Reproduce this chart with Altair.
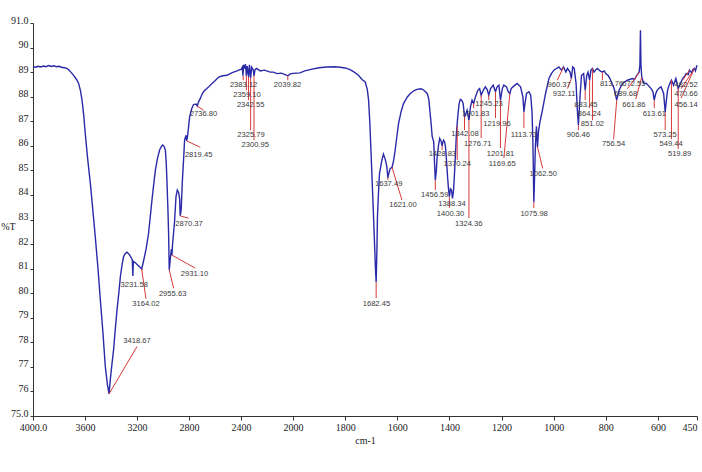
import altair as alt
import pandas as pd

# ---- spectrum (wavenumber cm-1, %T) ----
wn = [4000, 3980, 3960, 3940, 3920, 3900, 3880, 3860, 3840, 3820, 3800, 3780, 3760, 3740, 3726,
      3700, 3688, 3665, 3649, 3635, 3623, 3610, 3598, 3580, 3559, 3540, 3521, 3500, 3482, 3462,
      3444, 3428, 3415, 3405, 3395, 3380, 3366, 3354, 3340, 3328, 3315, 3303, 3290, 3277, 3260,
      3245, 3236, 3232, 3228, 3215, 3195, 3175, 3164, 3150, 3130, 3111, 3098, 3085, 3072, 3059,
      3042, 3026, 3012, 3003, 2992, 2982, 2975, 2969, 2962, 2957, 2952, 2942, 2935, 2931, 2927,
      2918, 2912, 2900, 2890, 2880, 2872, 2868, 2860, 2852, 2840, 2834, 2823, 2818, 2812, 2795,
      2780, 2765, 2745, 2737, 2725, 2713, 2700, 2688, 2675, 2662, 2645, 2623, 2600, 2572, 2540,
      2508, 2480, 2457, 2430, 2410, 2400, 2390, 2385, 2380, 2372, 2365, 2359, 2352, 2342, 2335,
      2326, 2318, 2306, 2300, 2292, 2280, 2252, 2220, 2175, 2150, 2123, 2090, 2060, 2040, 2020,
      2000, 1973, 1955, 1935, 1900, 1871, 1840, 1819, 1800, 1781, 1765, 1749, 1735, 1723, 1715,
      1710, 1705, 1701, 1696, 1691, 1686, 1684, 1681, 1678, 1676, 1672, 1668, 1659, 1653, 1646,
      1640, 1636, 1632, 1627, 1620, 1614, 1608, 1600, 1595, 1585, 1576, 1562, 1550, 1535, 1524,
      1510, 1501, 1492, 1485, 1479, 1475, 1470, 1466, 1460, 1457, 1454, 1450, 1447, 1442, 1437,
      1432, 1428, 1425, 1422, 1418, 1415, 1411, 1407, 1403, 1400, 1396, 1392, 1388, 1384, 1381,
      1377, 1373, 1368, 1363, 1358, 1352, 1347, 1342, 1337, 1332, 1325, 1319, 1313, 1307, 1300,
      1291, 1284, 1278, 1270, 1262, 1255, 1249, 1242, 1232, 1223, 1217, 1210, 1204, 1197, 1191,
      1181, 1174, 1168, 1163, 1153, 1140, 1127, 1118, 1114, 1110, 1104, 1095, 1088, 1083, 1080,
      1078, 1076, 1073, 1070, 1066, 1062, 1058, 1052, 1043, 1031, 1018, 1008, 999, 980, 970,
      962, 953, 947, 937, 932, 927, 921, 914, 909, 905, 901, 898, 893, 885, 879,
      873, 868, 862, 857, 851, 845, 838, 832, 822, 813, 806, 800, 790, 781, 768,
      758, 749, 736, 717, 698, 690, 681, 672, 669, 667, 665, 662, 654, 645, 638,
      626, 619, 614, 609, 603, 595, 588, 578, 572, 567, 563, 557, 548, 540, 531,
      522, 514, 505, 497, 492, 483, 479, 470, 466, 460, 456, 450]
trans = [89.22, 89.20, 89.24, 89.21, 89.25, 89.22, 89.27, 89.23, 89.26, 89.22, 89.24, 89.20, 89.18, 89.15, 89.10,
         88.95, 88.87, 88.70, 88.54, 88.25, 87.86, 87.25, 86.50, 85.50, 84.47, 83.40, 82.30, 81.00, 79.73, 78.40,
         77.02, 76.30, 75.90, 76.50, 77.00, 77.70, 78.60, 79.30, 80.00, 80.67, 81.15, 81.49, 81.62, 81.67, 81.58,
         81.45, 81.35, 80.70, 81.30, 81.25, 81.15, 81.05, 80.98, 81.30, 81.80, 82.44, 83.10, 83.79, 84.40, 85.00,
         85.50, 85.83, 85.98, 86.03, 85.98, 85.83, 85.30, 84.47, 83.40, 82.44, 80.95, 81.50, 81.80, 81.55, 81.95,
         82.50, 82.85, 83.93, 84.20, 84.10, 83.85, 83.15, 83.40, 84.47, 85.60, 86.23, 86.43, 86.20, 86.35, 87.18,
         87.50, 87.68, 87.70, 87.62, 87.80, 87.93, 88.10, 88.20, 88.28, 88.33, 88.42, 88.54, 88.65, 88.80, 88.85,
         88.87, 88.95, 89.00, 89.05, 89.10, 89.10, 89.20, 88.85, 89.30, 89.15, 89.32, 88.85, 89.25, 88.80, 89.30,
         88.75, 89.20, 89.10, 88.85, 89.10, 89.15, 89.05, 89.08, 89.00, 89.00, 88.94, 88.96, 88.90, 88.85, 88.93,
         88.95, 88.97, 89.05, 89.10, 89.18, 89.21, 89.22, 89.20, 89.17, 89.10, 89.00, 88.87, 88.70, 88.60, 88.30,
         87.86, 86.90, 85.83, 84.50, 83.11, 81.70, 81.08, 80.45, 81.80, 83.11, 84.10, 84.88, 85.42, 85.66, 85.45,
         85.15, 84.70, 84.90, 85.08, 85.12, 85.40, 85.83, 86.50, 86.91, 87.40, 87.72, 87.98, 88.13, 88.25, 88.30,
         88.32, 88.29, 88.20, 88.13, 87.90, 87.45, 86.90, 86.37, 86.16, 85.30, 84.60, 85.00, 85.55, 86.00, 86.30,
         86.20, 86.00, 86.15, 86.23, 86.15, 85.96, 85.40, 84.74, 84.20, 83.93, 84.25, 84.20, 83.86, 84.20, 84.74,
         85.60, 86.50, 87.18, 87.70, 87.89, 87.85, 87.72, 87.18, 87.30, 87.45, 87.04, 87.59, 87.86, 87.72, 87.99,
         88.26, 88.33, 88.06, 88.26, 88.40, 88.29, 88.06, 88.33, 88.47, 88.20, 88.40, 88.47, 87.86, 88.33, 88.47,
         88.40, 88.20, 88.13, 88.33, 88.43, 88.54, 88.40, 87.99, 87.38, 87.72, 88.13, 88.20, 88.06, 87.40, 86.30,
         85.15, 83.70, 84.80, 86.00, 86.80, 85.95, 86.60, 87.00, 87.45, 88.13, 88.74, 88.95, 89.08, 89.21, 89.08,
         89.21, 89.00, 89.15, 89.00, 88.74, 89.21, 89.15, 88.54, 87.45, 86.84, 87.60, 88.13, 88.87, 88.94, 88.26,
         88.87, 89.00, 88.67, 89.08, 89.15, 89.00, 89.10, 89.15, 89.05, 89.00, 89.05, 88.94, 88.85, 88.67, 88.33,
         87.86, 88.26, 88.54, 88.67, 88.74, 88.70, 88.87, 89.00, 89.30, 90.70, 89.30, 88.80, 88.54, 88.55, 88.47,
         88.33, 88.20, 87.86, 88.10, 88.26, 88.35, 88.40, 88.13, 87.38, 87.90, 88.26, 88.47, 88.67, 88.47, 88.74,
         88.33, 88.54, 88.74, 88.85, 88.94, 88.90, 89.08, 88.97, 89.10, 89.15, 89.05, 89.28]

# ---- peak annotations: text, curve point, leader end, text position ----
peak_text = ["3418.67", "3231.58", "3164.02", "2955.63", "2931.10", "2870.37", "2819.45", "2736.80",
             "2383.12", "2359.10", "2342.55", "2325.79", "2300.95", "2039.82",
             "1682.45", "1637.49", "1621.00", "1456.59", "1428.83", "1388.34", "1400.30", "1370.24",
             "1324.36", "1342.08", "1301.83", "1276.71", "1245.23", "1219.96", "1201.81", "1169.65",
             "1113.73", "1075.98", "1062.50", "960.37", "932.11", "883.45", "864.24", "851.02",
             "906.46", "813.76", "756.54", "689.68", "672.55", "661.86", "613.61", "573.25",
             "549.44", "519.89", "482.52", "470.66", "456.14"]
anchor_wn = [3415, 3232, 3164, 2952, 2931, 2868, 2818, 2737,
             2383, 2359, 2342, 2326, 2300, 2040,
             1681, 1636, 1620, 1454, 1428, 1388, 1400, 1370,
             1325, 1342, 1307, 1278, 1249, 1223, 1204, 1168,
             1114, 1076, 1062, 962, 932, 879, 862, 851,
             905, 813, 758, 690, 672, 662, 614, 572,
             548, 522, 479, 470, 460]
anchor_t = [75.90, 80.70, 80.98, 80.95, 81.55, 83.15, 86.20, 87.62,
            88.85, 88.85, 88.80, 88.75, 88.85, 88.85,
            80.45, 84.70, 85.12, 84.60, 86.00, 83.86, 83.93, 86.80,
            87.04, 87.18, 87.72, 88.06, 88.06, 88.20, 87.86, 88.13,
            87.38, 83.70, 85.95, 89.21, 88.74, 88.26, 88.67, 89.15,
            86.84, 89.00, 87.86, 88.70, 89.00, 88.80, 87.86, 87.38,
            88.67, 88.33, 89.08, 88.97, 89.15]
end_wn = [3200, 3232, 3131, 2918, 2752, 2803, 2713, 2688,
          2383, 2359, 2342, 2326, 2300, 2040,
          1681, 1636, 1582, 1454, 1428, 1388, 1400, 1370,
          1325, 1342, 1307, 1278, 1249, 1223, 1204, 1191,
          1114, 1076, 1042, 986, 947, 879, 862, 851,
          905, 813, 770, 717, 692, 685, 614, 572,
          548, 522, 505, 511, 511]
end_t = [77.83, 80.70, 79.77, 80.20, 81.02, 83.05, 85.94, 87.45,
         88.67, 88.26, 87.86, 86.64, 86.23, 88.67,
         79.80, 84.60, 83.79, 84.20, 85.83, 83.86, 83.47, 85.42,
         83.06, 86.64, 87.53, 86.31, 87.86, 87.13, 85.91, 85.50,
         86.72, 83.47, 85.08, 88.67, 88.33, 87.86, 87.53, 87.04,
         86.64, 88.67, 86.26, 88.33, 88.67, 87.90, 87.53, 86.64,
         86.27, 85.87, 88.67, 88.33, 87.94]
text_wn = [3200, 3221, 3131, 2926, 2757, 2800, 2726, 2688,
           2380, 2354, 2326, 2323, 2290, 2042,
           1680, 1633, 1578, 1456, 1427, 1390, 1396, 1370,
           1326, 1340, 1299, 1291, 1248, 1217, 1204, 1197,
           1114, 1075, 1040, 979, 960, 876, 863, 851,
           905, 778, 770, 724, 692, 692, 614, 572,
           549, 517, 492, 492, 492]
text_t = [78.05, 80.34, 79.56, 79.97, 80.78, 82.82, 85.62, 87.28,
          88.47, 88.06, 87.66, 86.43, 86.03, 88.47,
          79.57, 84.44, 83.58, 84.01, 85.65, 83.63, 83.22, 85.24,
          82.82, 86.48, 87.28, 86.06, 87.70, 86.88, 85.65, 85.24,
          86.46, 83.22, 84.85, 88.47, 88.09, 87.68, 87.28, 86.87,
          86.43, 88.50, 86.06, 88.09, 88.50, 87.68, 87.28, 86.43,
          86.06, 85.65, 88.47, 88.09, 87.68]

x_ticks = [4000, 3600, 3200, 2800, 2400, 2000, 1800, 1600, 1400, 1200, 1000, 800, 600, 450]
y_ticks = list(range(75, 92))

spec = pd.DataFrame({"wn": wn, "t": trans})
peaks = pd.DataFrame({"label": peak_text, "awn": anchor_wn, "at": anchor_t,
                      "ewn": end_wn, "et": end_t, "twn": text_wn, "tt": text_t})

W, H = 664, 393
xscale = alt.Scale(domain=[4000, 2000, 450], range=[0, 260, W], zero=False, nice=False)
yscale = alt.Scale(domain=[75, 91], zero=False, nice=False)

axis_font = "Liberation Serif"
xaxis = alt.Axis(values=x_ticks, title="cm-1", grid=False,
                 labelExpr="datum.value == 4000 ? '4000.0' : format(datum.value, 'd')",
                 labelAlign=alt.expr("datum.value == 450 ? 'right' : 'center'"),
                 labelFont=axis_font, titleFont=axis_font, labelFontSize=10, titleFontSize=10,
                 titleFontWeight="normal", labelColor="#222", titleColor="#222",
                 tickSize=4, tickColor="#333", domainColor="#333", labelPadding=2,
                 titlePadding=3, labelOverlap=False, labelFlush=False)
yaxis = alt.Axis(values=y_ticks, title="%T", grid=False,
                 labelExpr="(datum.value == 75 || datum.value == 91) ? format(datum.value, '.1f') : format(datum.value, 'd')",
                 labelFont=axis_font, titleFont=axis_font, labelFontSize=10, titleFontSize=10,
                 titleFontWeight="normal", labelColor="#222", titleColor="#222",
                 labelBaseline="alphabetic", tickSize=3, tickColor="#333", domainColor="#333",
                 labelPadding=2, titleAngle=0, titleAlign="center", titleBaseline="middle",
                 titleX=-25, titleY=203, labelOverlap=False)

line = alt.Chart(spec).mark_line(color="#2a2aa8", strokeWidth=1.4, interpolate="linear").encode(
    x=alt.X("wn:Q", scale=xscale, axis=xaxis),
    y=alt.Y("t:Q", scale=yscale, axis=yaxis),
    order="wn:Q",
)

leaders = alt.Chart(peaks).mark_rule(color="#d83a3a", strokeWidth=1).encode(
    x=alt.X("awn:Q", scale=xscale, axis=xaxis), y=alt.Y("at:Q", scale=yscale, axis=yaxis),
    x2="ewn:Q", y2="et:Q",
)

texts = alt.Chart(peaks).mark_text(
    font="Liberation Sans", fontSize=7.6, color="#3a3a3a", align="center", baseline="middle",
).encode(
    x=alt.X("twn:Q", scale=xscale, axis=xaxis), y=alt.Y("tt:Q", scale=yscale, axis=yaxis),
    text="label:N",
)

chart = alt.layer(line, leaders, texts).properties(
    width=W, height=H,
    background="white",
    autosize=alt.AutoSizeParams(type="none"),
    padding={"left": 33, "top": 23, "right": 5, "bottom": 56},
).configure_view(stroke=None)

chart.save("out.html", embed_options={"renderer": "svg", "actions": False})
